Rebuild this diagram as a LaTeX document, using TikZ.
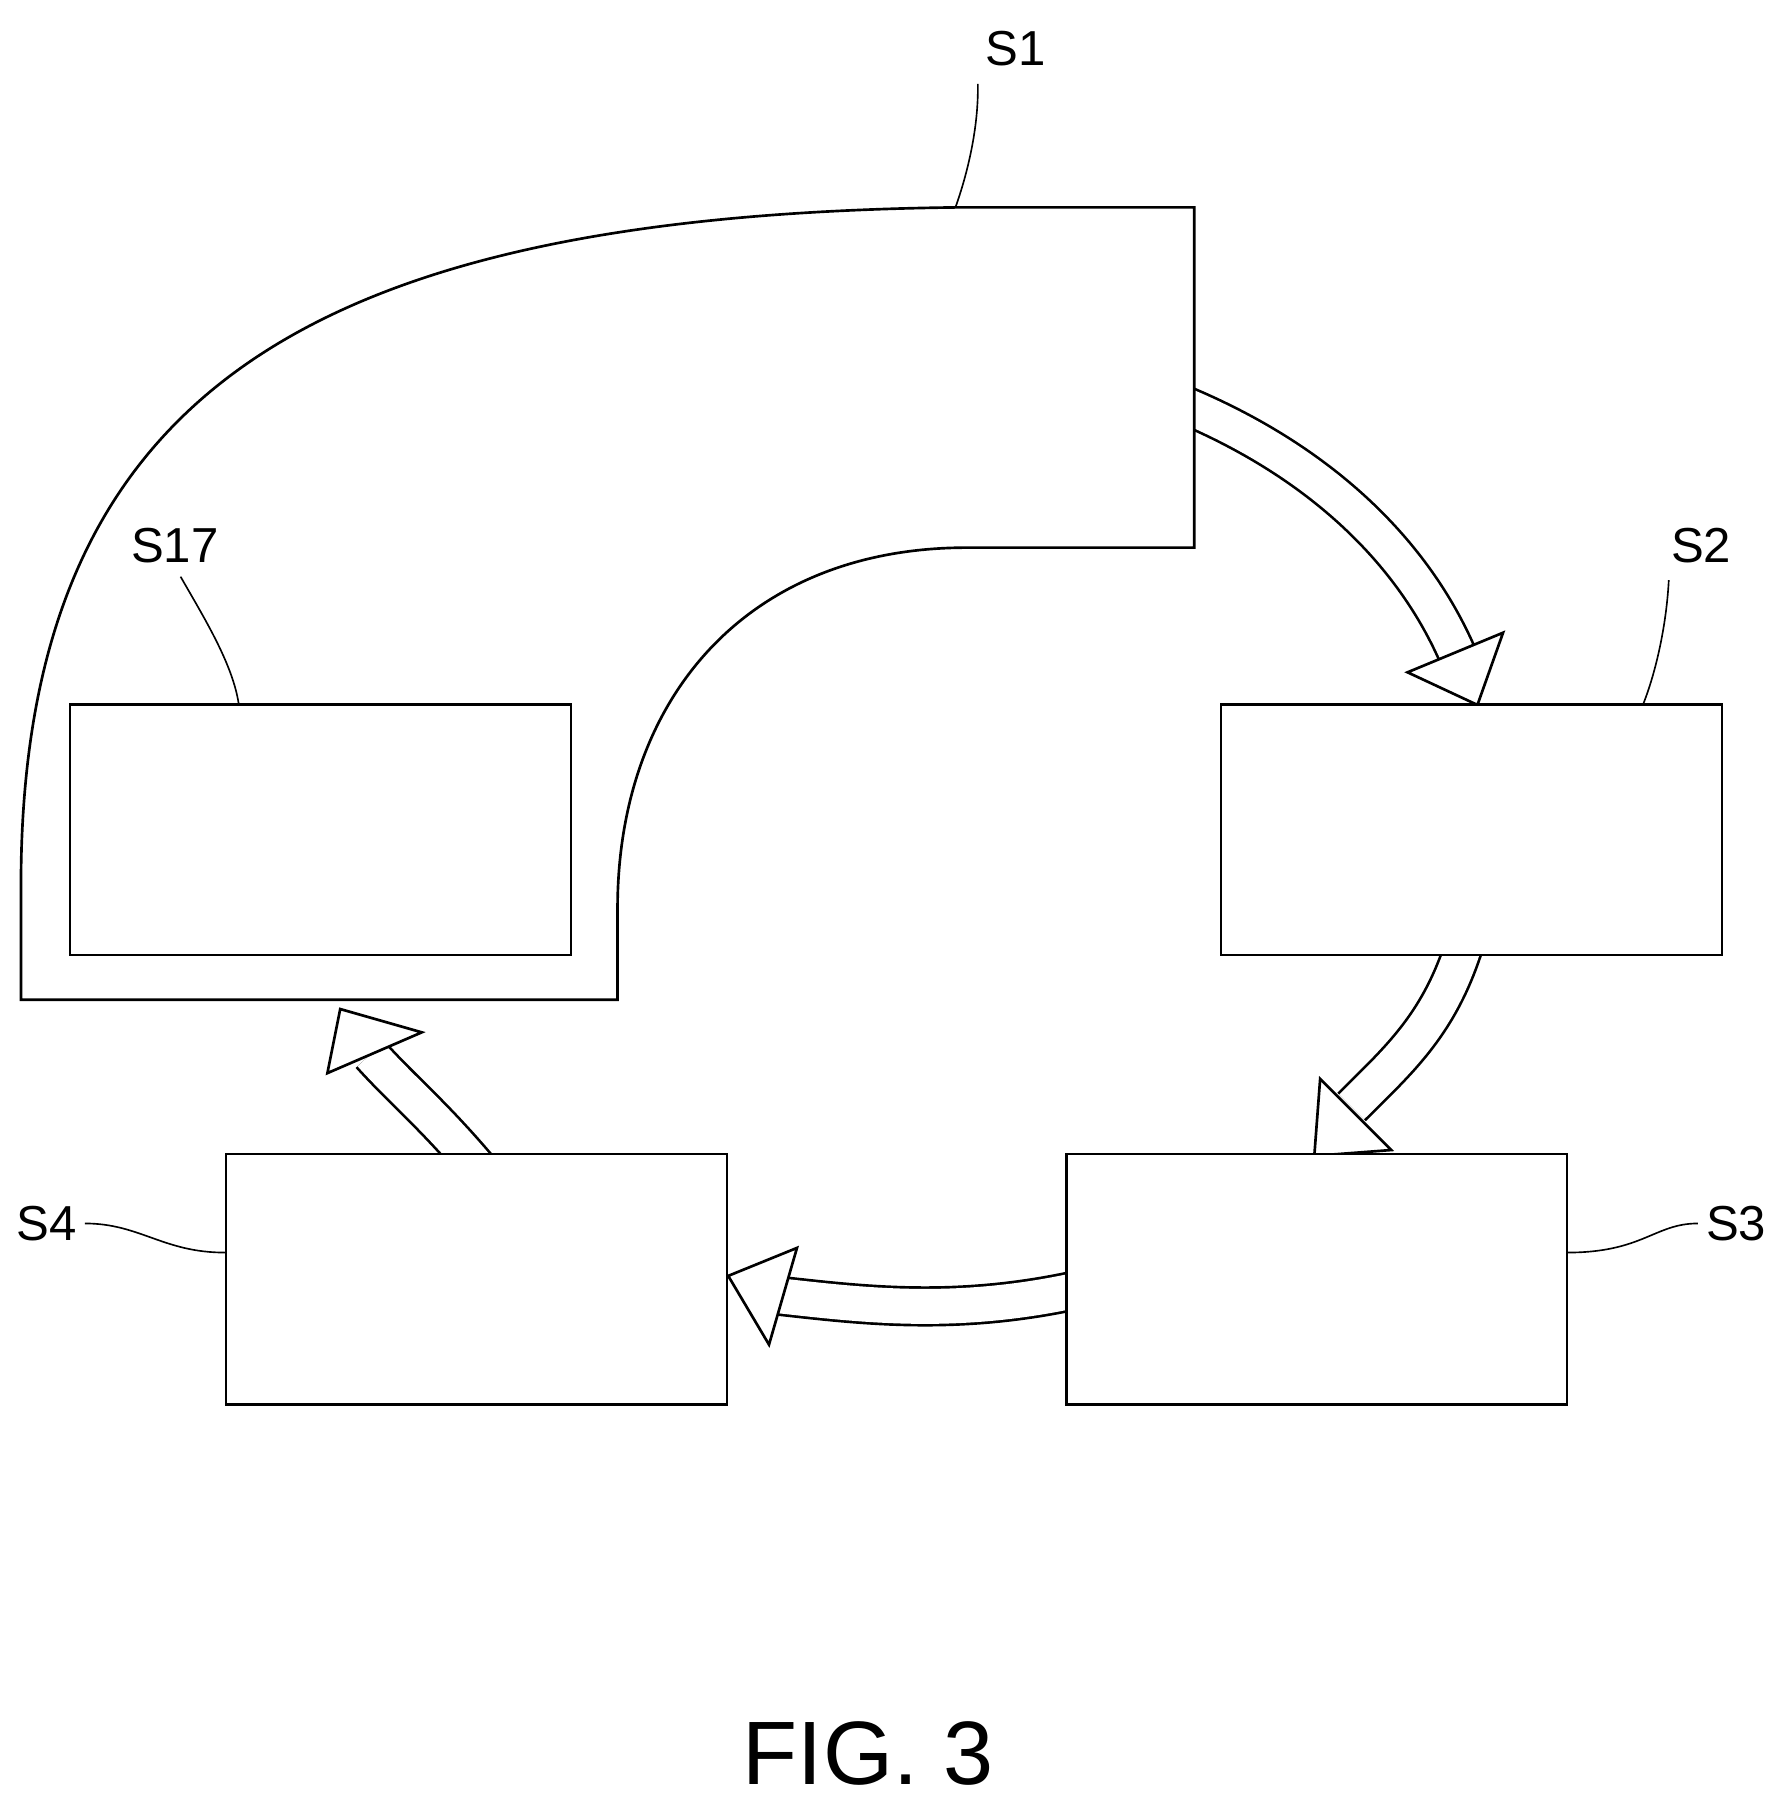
\documentclass[tikz,border=0pt]{standalone}
\usepackage{fontspec}
\setmainfont{Liberation Sans}
\begin{document}
\begin{tikzpicture}[x=0.02cm,y=-0.02cm,line width=1.3pt,
  box/.style={draw,fill=white,minimum width=8.6cm,minimum height=4.3cm,inner sep=0,line width=1.3pt},
  lab/.style={font=\fontsize{24}{24}\selectfont},
  shaft/.style={double=white,double distance=0.6cm,line width=1.3pt},
  head/.style={draw,fill=white,line join=miter,line width=1.3pt}]
\useasboundingbox (0,0) rectangle (1527,1556);
% hollow arrows (drawn first, boxes cover their tails)
\draw[shaft] (1015,347) .. controls (1130,395) and (1210,470) .. (1250,560);
\draw[head] (1208,577) -- (1268,605) -- (1290,543) -- cycle;
\draw[shaft] (1257,810) .. controls (1235,880) and (1200,910) .. (1160,950);
\draw[head] (1133,926) -- (1128,992) -- (1194,987) -- cycle;
\draw[shaft] (925,1107) .. controls (820,1130) and (740,1120) .. (668,1112);
\draw[head] (684,1071) -- (625,1095) -- (660,1154) -- cycle;
\draw[shaft] (410,1002) .. controls (370,955) and (345,935) .. (318,905);
\draw[head] (281,921) -- (292,866) -- (362,886) -- cycle;
% S1 shape
\draw[line join=miter,fill=white] (18,858) -- (18,760) .. controls (18,340) and (260,185) .. (820,178)
  -- (1025,178) -- (1025,470) -- (830,470) .. controls (640,470) and (530,600) .. (530,780) -- (530,858) -- cycle;
\node[box] (s17) at (275,712) {};
\node[box] (s2) at (1263,712) {};
\node[box] (s3) at (1130,1098) {};
\node[box] (s4) at (409,1098) {};
% labels
\node[lab] (l1) at (872,42) {S1};
\node[lab] (l17) at (150,468) {S17};
\node[lab] (l2) at (1460,468) {S2};
\node[lab] (l3) at (1490,1050) {S3};
\node[lab] (l4) at (40,1050) {S4};
\coordinate (c1) at (820,178);
\coordinate (c17) at (205,605);
\coordinate (c2) at (1410,605);
\coordinate (c3) at (1345,1075);
\coordinate (c4) at (193,1075);
\draw[line width=0.8pt] (l1.south west) ++(0,8) .. controls (840,110) and (830,150) .. (c1);
\draw[line width=0.8pt] (l17.south) ++(5,5) .. controls (175,530) and (200,570) .. (c17);
\draw[line width=0.8pt] (l2.south west) ++(5,8) .. controls (1430,540) and (1420,580) .. (c2);
\draw[line width=0.8pt] (l3.west) .. controls (1420,1050) and (1410,1075) .. (c3);
\draw[line width=0.8pt] (l4.east) .. controls (120,1050) and (140,1075) .. (c4);
\node[font=\fontsize{44}{44}\selectfont] (fig) at (745,1505) {FIG. 3};
\end{tikzpicture}
\end{document}
